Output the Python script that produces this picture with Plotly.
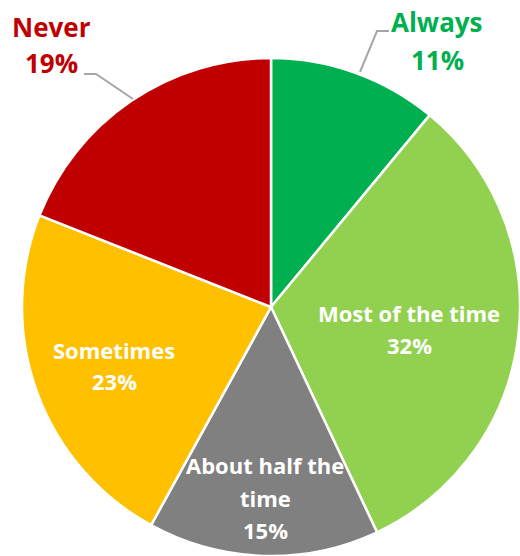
import plotly.graph_objects as go

# ---- data ----
categories = ["Always", "Most of the time", "About half the time", "Sometimes", "Never"]
values = [11, 32, 15, 23, 19]
colors = ["#00B050", "#92D050", "#808080", "#FFC000", "#C00000"]

W, H = 520, 556
FONT = "Open Sans"

def px(x):
    return x / W

def py(y):
    return 1 - y / H

fig = go.Figure(go.Pie(
    labels=categories,
    values=values,
    sort=False,
    direction="clockwise",
    rotation=0,
    marker=dict(colors=colors, line=dict(color="white", width=2.5)),
    textinfo="none",
    hoverinfo="label+percent",
    showlegend=False,
    domain=dict(x=[px(22), px(520)], y=[py(556), py(58)]),
))

# ---- label layout (pixel centres of each text line) ----
total = sum(values)
pct = [f"{round(v / total * 100)}%" for v in values]
label_lines = {
    "Always": (["Always", pct[0]], 437, [22, 60], 26, "#00B050"),
    "Most of the time": (["Most of the time", pct[1]], 409, [313, 345], 22, "white"),
    "About half the time": (["About half the", "time", pct[2]], 265, [465, 498, 530], 22, "white"),
    "Sometimes": (["Sometimes", pct[3]], 114, [350, 381], 22, "white"),
    "Never": (["Never", pct[4]], 51, [27, 63], 26, "#C00000"),
}

annotations = []
for cat in categories:
    lines, x, ys, size, col = label_lines[cat]
    for t, y in zip(lines, ys):
        annotations.append(dict(
            x=px(x), y=py(y), xref="paper", yref="paper",
            text=f"<b>{t}</b>", showarrow=False,
            xanchor="center", yanchor="middle",
            font=dict(family=FONT, size=size, color=col),
        ))

def path(points):
    s = "M " + " L ".join(f"{px(a)},{py(b)}" for a, b in points)
    return s

shapes = [
    dict(type="path", xref="paper", yref="paper",
         path=path([(84, 74), (96, 74), (133, 99)]),
         line=dict(color="#A6A6A6", width=2)),
    dict(type="path", xref="paper", yref="paper",
         path=path([(360, 72), (377, 31), (389, 31)]),
         line=dict(color="#A6A6A6", width=2)),
]

fig.update_layout(
    width=W, height=H,
    margin=dict(l=0, r=0, t=0, b=0),
    paper_bgcolor="white",
    plot_bgcolor="white",
    annotations=annotations,
    shapes=shapes,
)

fig.write_html("out.html")
